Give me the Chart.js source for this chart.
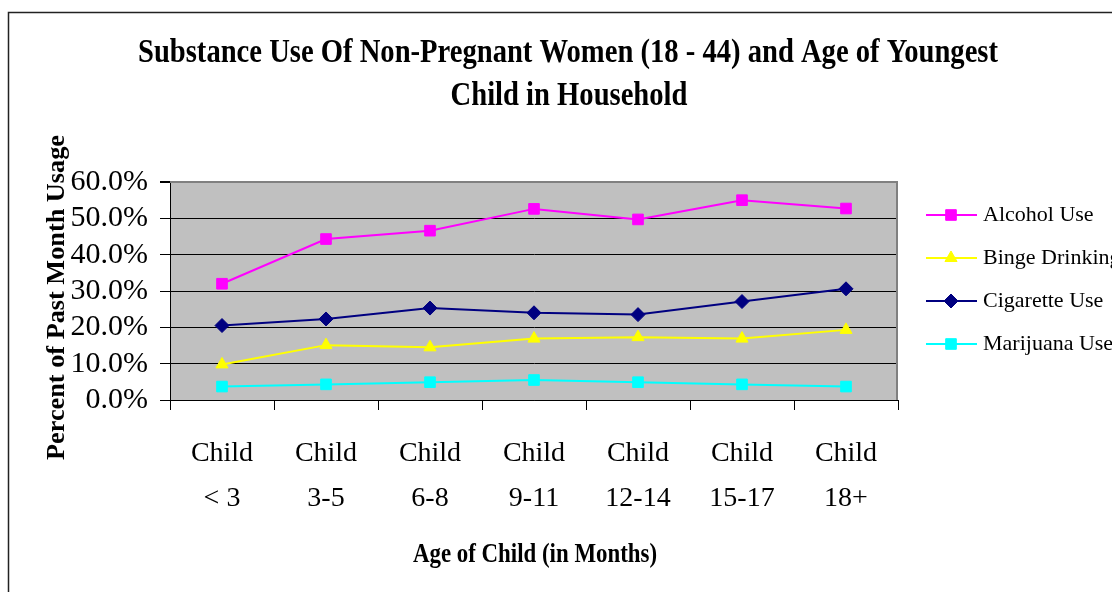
<!DOCTYPE html>
<html><head><meta charset="utf-8">
<script src="https://cdn.jsdelivr.net/npm/chart.js@4.4.0/dist/chart.umd.min.js"></script>
<style>
html,body{margin:0;padding:0;overflow:hidden;background:#fff;width:1112px;height:592px}
#wrap{position:absolute;left:0;top:0;width:1140px;height:592px}
canvas{display:block}
</style>
</head><body><div id="wrap"><canvas id="c" width="1140" height="592" style="width:1140px;height:592px"></canvas></div>
<script>
// ---- data ----
const categories = [['Child','< 3'],['Child','3-5'],['Child','6-8'],['Child','9-11'],['Child','12-14'],['Child','15-17'],['Child','18+']];
const seriesNames = ['Alcohol Use','Binge Drinking','Cigarette Use','Marijuana Use'];
const alcoholUse    = [32.0, 44.3, 46.6, 52.6, 49.7, 55.0, 52.7];
const bingeDrinking = [9.8, 15.1, 14.5, 16.9, 17.3, 16.9, 19.3];
const cigaretteUse  = [20.5, 22.3, 25.3, 24.0, 23.5, 27.1, 30.6];
const marijuanaUse  = [3.7, 4.3, 4.9, 5.5, 4.9, 4.3, 3.7];
const yTickValues = [0, 10, 20, 30, 40, 50, 60];
const titleLines = ['Substance Use Of Non-Pregnant Women (18 - 44) and Age of Youngest', 'Child in Household'];
const xAxisTitle = 'Age of Child (in Months)';
const yAxisTitle = 'Percent of Past Month Usage';

const SERIF = '"Liberation Serif", "Times New Roman", serif';
const colors = ['#FF00FF', '#FFFF00', '#000080', '#00FFFF'];
const styles = [
  {pointStyle: 'rect', radius: 7.5},
  {pointStyle: 'triangle', radius: 7},
  {pointStyle: 'rectRot', radius: 7},
  {pointStyle: 'rect', radius: 7.5}
];
const seriesData = [alcoholUse, bingeDrinking, cigaretteUse, marijuanaUse];

const datasets = seriesNames.map((name, i) => ({
  label: name,
  data: seriesData[i],
  borderColor: colors[i],
  backgroundColor: colors[i],
  borderWidth: 2,
  pointStyle: styles[i].pointStyle,
  pointRadius: styles[i].radius,
  pointHoverRadius: styles[i].radius,
  pointBorderWidth: 1,
  pointBackgroundColor: colors[i],
  pointBorderColor: colors[i],
  tension: 0,
  clip: false
}));

function drawScaledText(ctx, text, x, y, font, sx) {
  ctx.save();
  ctx.font = font;
  ctx.translate(x, y);
  ctx.scale(sx, 1);
  ctx.textAlign = 'center';
  ctx.textBaseline = 'alphabetic';
  ctx.fillStyle = '#000';
  ctx.fillText(text, 0, 0);
  ctx.restore();
}
function widthOf(ctx, text, font) {
  ctx.save(); ctx.font = font; const w = ctx.measureText(text).width; ctx.restore(); return w;
}

const decor = {
  id: 'decor',
  beforeDraw(chart) {
    const {ctx, chartArea: a} = chart;
    ctx.save();
    ctx.fillStyle = '#fff';
    ctx.fillRect(0, 0, chart.width, chart.height);
    ctx.strokeStyle = '#222';
    ctx.lineWidth = 1.5;
    ctx.beginPath();
    ctx.moveTo(8.5, chart.height + 5);
    ctx.lineTo(8.5, 12.5);
    ctx.lineTo(chart.width + 5, 12.5);
    ctx.stroke();
    ctx.fillStyle = '#C0C0C0';
    ctx.fillRect(a.left, a.top, a.right - a.left, a.bottom - a.top);
    ctx.restore();
  },
  beforeDatasetsDraw(chart) {
    const {ctx, chartArea: a} = chart;
    ctx.save();
    ctx.strokeStyle = '#808080';
    ctx.lineWidth = 2;
    ctx.beginPath();
    ctx.moveTo(a.left, a.top);
    ctx.lineTo(a.right - 1, a.top);
    ctx.lineTo(a.right - 1, a.bottom);
    ctx.stroke();
    ctx.restore();
  },
  afterDraw(chart) {
    const {ctx} = chart;
    const tFont = 'bold 33px ' + SERIF;
    const sx = 860 / widthOf(ctx, titleLines[0], tFont);
    drawScaledText(ctx, titleLines[0], 568, 62, tFont, sx);
    drawScaledText(ctx, titleLines[1], 569, 105, tFont, sx);
    const xFont = 'bold 28px ' + SERIF;
    drawScaledText(ctx, xAxisTitle, 535, 562, xFont, 244 / widthOf(ctx, xAxisTitle, xFont));
    const yFont = 'bold 26px ' + SERIF;
    ctx.save();
    ctx.translate(63.5, 297.5);
    ctx.rotate(-Math.PI / 2);
    drawScaledText(ctx, yAxisTitle, 0, 0, yFont, 325 / widthOf(ctx, yAxisTitle, yFont));
    ctx.restore();
    chart.data.datasets.forEach((ds, i) => {
      const y = 215 + i * 43;
      ctx.save();
      ctx.strokeStyle = ds.borderColor;
      ctx.lineWidth = 2;
      ctx.beginPath();
      ctx.moveTo(926, y);
      ctx.lineTo(977, y);
      ctx.stroke();
      ctx.fillStyle = ds.backgroundColor;
      ctx.strokeStyle = ds.borderColor;
      ctx.lineWidth = 1;
      Chart.helpers.drawPoint(ctx, {pointStyle: ds.pointStyle, radius: ds.pointRadius, borderWidth: 1, rotation: 0}, 951, y);
      ctx.fillStyle = '#000';
      ctx.font = '22px ' + SERIF;
      ctx.textAlign = 'left';
      ctx.textBaseline = 'middle';
      ctx.fillText(ds.label, 983, y);
      ctx.restore();
    });
  }
};

new Chart(document.getElementById('c'), {
  type: 'line',
  data: {labels: categories, datasets},
  options: {
    responsive: false,
    animation: false,
    events: [],
    layout: {padding: {top: 182, left: 0, right: 1140 - 898, bottom: 0}},
    plugins: {legend: {display: false}, title: {display: false}, tooltip: {enabled: false}},
    scales: {
      x: {
        type: 'category',
        offset: true,
        afterFit(s) { s.height = 192; },
        grid: {display: true, drawOnChartArea: false, drawTicks: true, tickLength: 10, color: '#000', tickColor: '#000', offset: true, lineWidth: 1},
        border: {display: true, color: '#000', width: 1},
        ticks: {color: '#000', font: {family: SERIF, size: 28, lineHeight: '45px'}, padding: 21, maxRotation: 0, minRotation: 0, autoSkip: false}
      },
      y: {
        min: 0, max: 60,
        afterFit(s) { s.width = 170; },
        afterBuildTicks(s) { s.ticks = yTickValues.map(v => ({value: v})); },
        grid: {
          color: c => (c.tick && c.tick.value === 60) ? '#808080' : '#000',
          lineWidth: c => (c.tick && c.tick.value === 60) ? 2 : 1,
          tickColor: '#000', tickLength: 10, drawTicks: true
        },
        border: {display: true, color: '#000', width: 1},
        ticks: {color: '#000', font: {family: SERIF, size: 30}, padding: 12, autoSkip: false, callback: v => v.toFixed(1) + '%'}
      }
    }
  },
  plugins: [decor]
});
</script>
</body></html>
